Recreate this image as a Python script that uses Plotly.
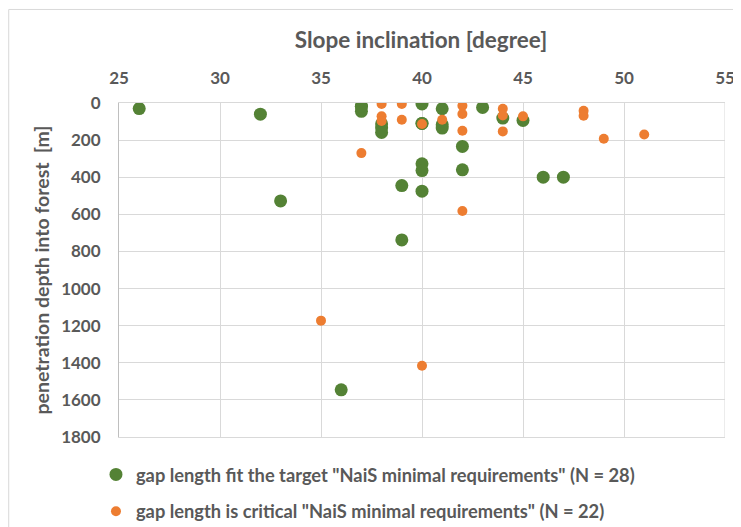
import plotly.graph_objects as go

# Slope inclination [degree] and penetration depth [m] per gap
fit_slope = [26, 32, 33, 36, 37, 37, 38, 38, 38, 39, 39, 40, 40, 40, 40, 40, 40,
             41, 41, 41, 42, 42, 43, 44, 45, 46, 47, 37]
fit_depth = [30, 60, 528, 1546, 18, 45, 113, 135, 159, 445, 738, 5, 110, 328, 364, 475, 110,
             31, 117, 135, 234, 360, 24, 81, 94, 400, 400, 18]

crit_slope = [35, 37, 38, 38, 38, 39, 39, 40, 40, 41, 42, 42, 42, 42,
              44, 44, 44, 45, 48, 48, 49, 51]
crit_depth = [1173, 270, 5, 72, 97, 5, 90, 113, 1416, 90, 15, 59, 150, 582,
              31, 67, 153, 72, 42, 69, 193, 170]

fit_name = 'gap length fit the target "NaiS minimal requirements" (N = 28)'
crit_name = 'gap length is critical "NaiS minimal requirements" (N = 22)'

GREEN = '#548235'
ORANGE = '#ED7D31'
GREY_TEXT = '#595959'
GRID = '#D9D9D9'
FONT = 'Lato'

fig = go.Figure()

fig.add_trace(go.Scatter(
    x=fit_slope, y=fit_depth, mode='markers', name=fit_name,
    marker=dict(color=GREEN, size=13), legendgroup='fit'
))
fig.add_trace(go.Scatter(
    x=crit_slope, y=crit_depth, mode='markers', name=crit_name,
    marker=dict(color=ORANGE, size=10), legendgroup='crit'
))

# the page body adds an 8px offset, so the figure is 8px smaller than the window
fig.update_layout(
    width=733, height=519,
    margin=dict(l=111, r=16, t=95, b=90, autoexpand=False),
    paper_bgcolor='white', plot_bgcolor='white',
    font=dict(family=FONT, color=GREY_TEXT, size=16, weight='bold'),
    title=dict(text='Slope inclination [degree]', x=0.5634, xanchor='center',
               y=0.939, yanchor='middle',
               font=dict(family=FONT, size=22.5, color=GREY_TEXT, weight='bold')),
    xaxis=dict(
        side='top', range=[25, 55], dtick=5, tick0=25,
        showgrid=True, gridcolor=GRID, gridwidth=1,
        showline=True, linecolor=GRID, mirror=True,
        zeroline=False, ticks='', ticklabelstandoff=11,
        tickfont=dict(size=17, color=GREY_TEXT, weight='bold')
    ),
    yaxis=dict(
        range=[1800, 0], dtick=200, tick0=0,
        showgrid=True, gridcolor=GRID, gridwidth=1,
        showline=True, linecolor='#BFBFBF', mirror=False,
        zeroline=False, ticks='', ticklabelstandoff=14,
        tickfont=dict(size=17, color=GREY_TEXT, weight='bold'),
        title=dict(text='penetration depth into forest  [m]', standoff=6,
                   font=dict(size=19.5, color=GREY_TEXT, weight='bold'))
    ),
    showlegend=True,
    legend=dict(
        orientation='v', x=-0.038, xanchor='left', y=-0.057, yanchor='top',
        font=dict(size=18.3, color=GREY_TEXT, weight='bold'), tracegroupgap=10,
        bgcolor='rgba(0,0,0,0)'
    ),
    shapes=[dict(type='line', xref='x', yref='paper', x0=55, x1=55, y0=0, y1=1,
                 line=dict(color=GRID, width=1)),
            dict(type='rect', xref='paper', yref='paper', x0=-0.182, x1=1.03,
                 y0=-0.3, y1=1.28, line=dict(color=GRID, width=1), layer='below')]
)

fig.write_html("out.html")
